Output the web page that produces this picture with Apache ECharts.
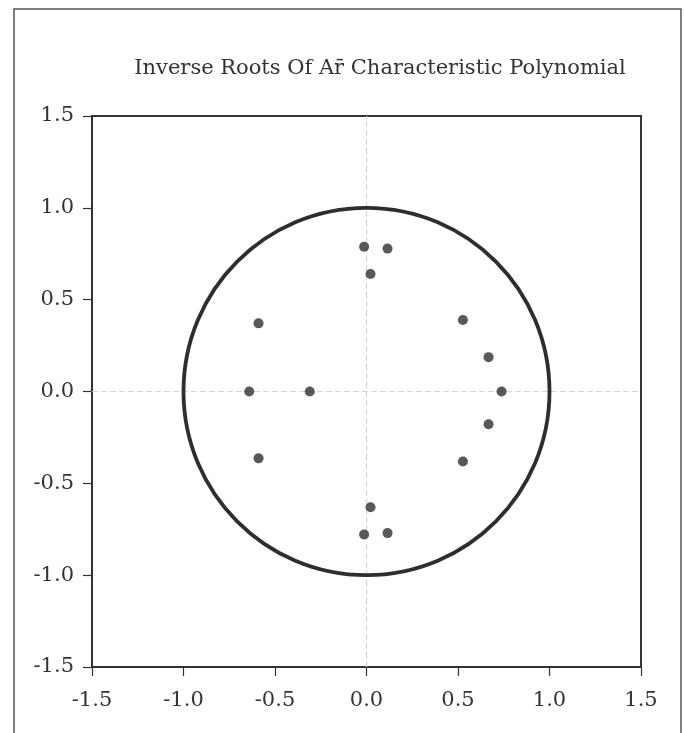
<!DOCTYPE html>
<html>
<head>
<meta charset="utf-8">
<script src="https://cdn.jsdelivr.net/npm/echarts@6/dist/echarts.min.js"></script>
<style>
  html, body { margin: 0; padding: 0; background: #fff; }
  #chart { width: 684px; height: 733px; }
</style>
</head>
<body>
<div id="chart"></div>
<script>
// Inverse roots of the AR characteristic polynomial (real, imaginary parts)
const rootRe = [-0.013, 0.115, 0.022, 0.527, 0.667, 0.738, 0.667, 0.527, 0.022, -0.013, 0.115, -0.590, -0.641, -0.310, -0.590];
const rootIm = [0.788, 0.778, 0.640, 0.389, 0.187, 0.000, -0.178, -0.381, -0.630, -0.779, -0.771, 0.371, 0.000, 0.000, -0.364];

// Axis tick labels
const tickValues = [-1.5, -1.0, -0.5, 0.0, 0.5, 1.0, 1.5];
const titleText = 'Inverse Roots Of A\u0072\u0304 Characteristic Polynomial';

// Unit circle: centre and radius
const unitCircle = [[0, 0, 1]];

const points = rootRe.map((re, i) => [re, rootIm[i]]);

const FONT = 'DejaVu Serif';
const INK = '#333333';

const axisCommon = {
  type: 'value',
  min: tickValues[0],
  max: tickValues[tickValues.length - 1],
  interval: 0.5,
  axisLine: { show: true, onZero: false, lineStyle: { color: INK, width: 1.5 } },
  axisTick: { show: true, inside: false, length: 9, lineStyle: { color: INK, width: 1.2 } },
  splitLine: { show: false },
  axisLabel: {
    color: INK,
    fontFamily: FONT,
    fontSize: 21,
    formatter: v => v.toFixed(1)
  }
};

const chart = echarts.init(document.getElementById('chart'), null, { renderer: 'canvas' });

chart.setOption({
  backgroundColor: '#ffffff',
  animation: false,
  title: {
    text: titleText,
    left: 375,
    textAlign: 'center',
    top: 53,
    textStyle: { fontFamily: FONT, fontWeight: 'normal', fontSize: 21, color: INK }
  },
  graphic: [{
    type: 'rect',
    shape: { x: 14, y: 9, width: 667, height: 760 },
    style: { fill: null, stroke: '#555555', lineWidth: 1.5 },
    silent: true,
    z: -10
  }],
  grid: {
    left: 92,
    top: 116,
    width: 549,
    height: 551,
    show: true,
    borderColor: INK,
    borderWidth: 2,
    backgroundColor: 'transparent'
  },
  xAxis: Object.assign({}, axisCommon, {
    axisLabel: Object.assign({}, axisCommon.axisLabel, { margin: 23 })
  }),
  yAxis: Object.assign({}, axisCommon, {
    axisLabel: Object.assign({}, axisCommon.axisLabel, { margin: 18 })
  }),
  series: [
    {
      type: 'custom',
      data: unitCircle,
      silent: true,
      z: 3,
      renderItem: function (params, api) {
        const c = api.coord([api.value(0), api.value(1)]);
        const s = api.size([api.value(2), api.value(2)]);
        return {
          type: 'ellipse',
          shape: { cx: c[0], cy: c[1], rx: s[0], ry: s[1] },
          style: { fill: null, stroke: '#2e2e2e', lineWidth: 3.8 }
        };
      }
    },
    {
      type: 'scatter',
      data: points,
      symbol: 'circle',
      symbolSize: 10,
      z: 4,
      itemStyle: { color: '#303030' },
      markLine: {
        silent: true,
        symbol: ['none', 'none'],
        label: { show: false },
        lineStyle: { color: '#d4d4d4', type: [6, 3], width: 1.2 },
        data: [{ xAxis: 0 }, { yAxis: 0 }],
        z: 1
      }
    }
  ]
});
</script>
</body>
</html>
